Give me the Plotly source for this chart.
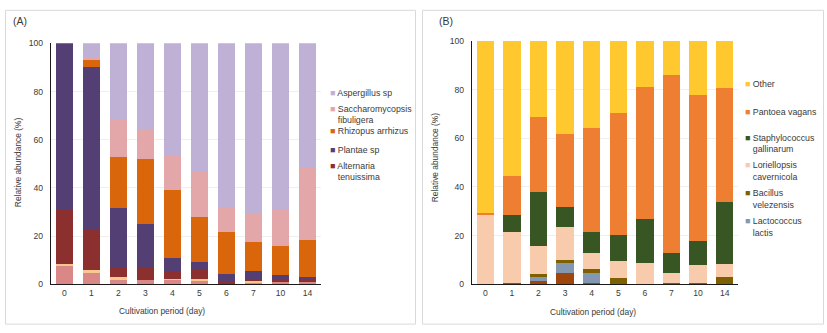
import plotly.graph_objects as go

# ---------------- data ----------------
days = ["0", "1", "2", "3", "4", "5", "6", "7", "10", "14"]

# Panel A (fungi) - stacked bottom to top
a_minor_pink = [7.6, 4.8, 2.0, 1.6, 1.7, 1.6, 0.3, 0.4, 0.9, 0.9]
a_minor_peach = [0.7, 1.0, 0.9, 0.0, 0.6, 0.7, 0.0, 1.2, 0.0, 0.0]
a_alternaria = [22.7, 17.0, 3.8, 5.1, 3.1, 3.7, 0.7, 0.8, 1.0, 0.7]
a_plantae = [69.0, 67.4, 24.8, 18.3, 5.6, 3.1, 3.3, 3.0, 2.1, 1.3]
a_rhizopus = [0.0, 2.8, 21.4, 26.9, 28.1, 19.0, 17.5, 12.0, 11.8, 15.6]
a_saccharomycopsis = [0.0, 1.4, 15.8, 12.1, 14.4, 18.4, 9.7, 12.3, 15.3, 30.0]
a_aspergillus = [0.0, 5.6, 31.3, 36.0, 46.5, 53.5, 68.5, 70.3, 68.9, 51.5]

# Panel B (bacteria) - stacked bottom to top
b_minor_rust = [0.0, 0.0, 1.2, 4.8, 0.7, 0.0, 0.0, 0.0, 0.0, 0.0]
b_lactococcus = [0.0, 0.0, 2.1, 4.0, 4.1, 0.0, 0.0, 0.0, 0.0, 0.0]
b_bacillus = [0.0, 0.5, 0.8, 1.3, 1.6, 2.7, 0.3, 0.4, 0.4, 3.2]
b_loriellopsis = [28.6, 21.1, 11.8, 13.5, 6.6, 6.7, 8.5, 4.4, 7.6, 5.2]
b_staphylococcus = [0.0, 7.0, 22.2, 8.3, 8.6, 10.7, 18.2, 8.2, 9.9, 25.5]
b_pantoea = [0.6, 16.0, 30.8, 29.7, 42.7, 50.4, 54.1, 72.8, 59.8, 46.6]
b_other = [70.8, 55.4, 31.1, 38.4, 35.7, 29.5, 18.9, 14.2, 22.3, 19.5]

y_ticks = [0, 20, 40, 60, 80, 100]

# ---------------- styling ----------------
W, H = 827, 333
FONT = "Liberation Sans, Arial, sans-serif"
TXT = "#3a3a3a"


def fx(p):
    return p / W


def fy(p):
    return 1 - p / H


# (values, colour, legend label lines or None, legend y px)
series_a = [
    (a_minor_pink, "#D98787", None, None),
    (a_minor_peach, "#F8C98F", None, None),
    (a_alternaria, "#8B2F2F", ["Alternaria", "tenuissima"], 171),
    (a_plantae, "#533F73", ["Plantae sp"], 152),
    (a_rhizopus, "#D9660A", ["Rhizopus arrhizus"], 133),
    (a_saccharomycopsis, "#E3A6A9", ["Saccharomycopsis", "fibuligera"], 112),
    (a_aspergillus, "#BFB1D6", ["Aspergillus sp"], 93),
]
series_b = [
    (b_minor_rust, "#9E460E", None, None),
    (b_lactococcus, "#8497B0", ["Lactococcus", "lactis"], 228),
    (b_bacillus, "#7F6000", ["Bacillus", "velezensis"], 199),
    (b_loriellopsis, "#F8CBAD", ["Loriellopsis", "cavernicola"], 170),
    (b_staphylococcus, "#375623", ["Staphylococcus", "gallinarum"], 142),
    (b_pantoea, "#EE7E32", ["Pantoea vagans"], 113),
    (b_other, "#FFC82F", ["Other"], 84),
]

fig = go.Figure()
legends = {}
leg_i = [0]


def add_panel(series, xa, ya, leg_x_px):
    for vals, col, label, ly in series:
        fig.add_trace(go.Bar(x=days, y=vals, marker=dict(color=col, line=dict(width=0)),
                             xaxis=xa, yaxis=ya, showlegend=False, hoverinfo="skip"))
        if label is None:
            continue
        leg_i[0] += 1
        key = "legend" if leg_i[0] == 1 else f"legend{leg_i[0]}"
        sq = f"<span style='color:{col}'>■</span> "
        blank = "<span style='color:rgba(255,255,255,0)'>■</span> "
        name = sq + label[0] + "".join("<br>" + blank + t for t in label[1:])
        fig.add_trace(go.Scatter(x=[None], y=[None], mode="markers", name=name,
                                 marker=dict(color="rgba(0,0,0,0)", size=1),
                                 xaxis=xa, yaxis=ya, legend=key, showlegend=True))
        legends[key] = dict(x=fx(leg_x_px - 40), xanchor="left", y=fy(ly - 18), yanchor="top",
                            bgcolor="rgba(0,0,0,0)", borderwidth=0, valign="top",
                            font=dict(family=FONT, size=8.8, color=TXT), itemclick=False)


add_panel(series_a, "x", "y", 330)
add_panel(series_b, "x2", "y2", 745)

axis_common = dict(showline=True, linecolor="#1a1a1a", linewidth=1.4, ticks="",
                   tickfont=dict(family=FONT, size=8.6, color=TXT))

fig.update_layout(
    width=W, height=H, margin=dict(l=0, r=0, t=0, b=0),
    paper_bgcolor="white", plot_bgcolor="white",
    barmode="stack", bargap=0.35,
    font=dict(family=FONT, color=TXT),
    xaxis=dict(domain=[fx(51), fx(321)], anchor="y", type="category", **axis_common),
    yaxis=dict(domain=[fy(288), fy(39.5)], anchor="x", range=[0, 100], tickvals=y_ticks,
               showgrid=True, gridcolor="#EFEFEF", gridwidth=1, zeroline=False,
               ticklabelstandoff=5, **axis_common),
    xaxis2=dict(domain=[fx(472), fx(738)], anchor="y2", type="category", **axis_common),
    yaxis2=dict(domain=[fy(288), fy(37)], anchor="x2", range=[0, 100], tickvals=y_ticks,
                showgrid=True, gridcolor="#EFEFEF", gridwidth=1, zeroline=False,
                ticklabelstandoff=5, **axis_common),
    **legends,
)

annos = [
    ("(A)", 20, 17, 0, 10.5),
    ("(B)", 446, 17, 0, 10.5),
    ("Cultivation period (day)", 162, 315, 0, 8.4),
    ("Cultivation period (day)", 593, 316, 0, 8.4),
    ("Relative abundance (%)", 18, 162, -90, 8.4),
    ("Relative abundance (%)", 435, 157, -90, 8.4),
]
for t, xp, yp, ang, sz in annos:
    fig.add_annotation(text=t, x=fx(xp), y=fy(yp), xref="paper", yref="paper",
                       showarrow=False, textangle=ang, xanchor="center", yanchor="middle",
                       font=dict(family=FONT, size=sz, color=TXT))

for x0, x1 in [(5.5, 415.5), (422.5, 823.5)]:
    fig.add_shape(type="rect", xref="paper", yref="paper", x0=fx(x0), x1=fx(x1),
                  y0=fy(329), y1=fy(5.5), line=dict(color="#D9D9D9", width=1), layer="below")

fig.write_html("out.html")
